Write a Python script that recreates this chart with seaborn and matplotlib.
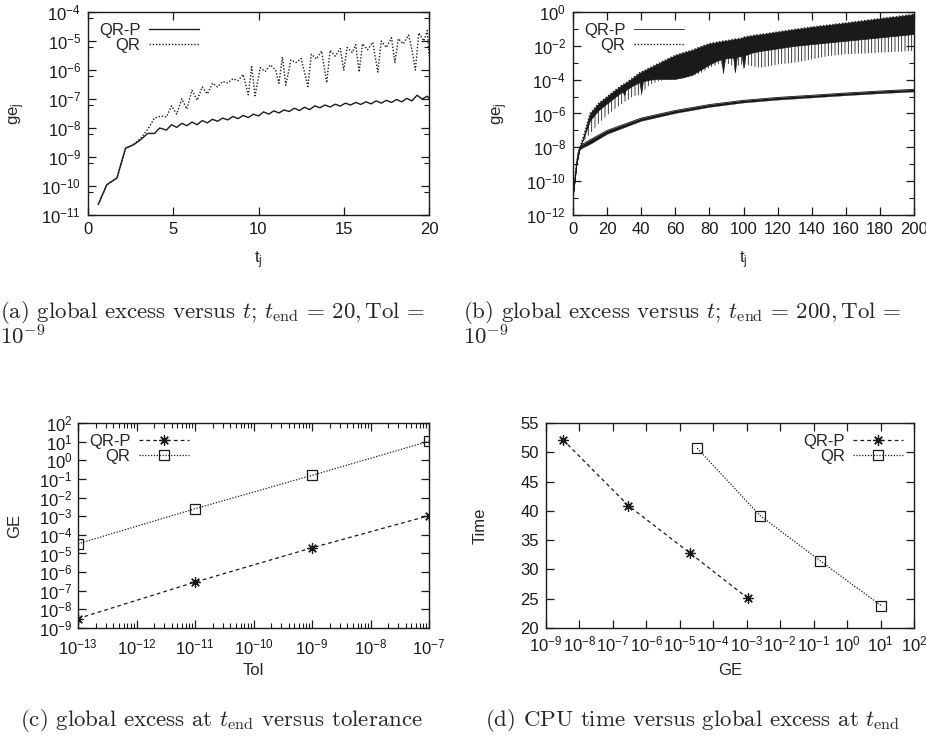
import numpy as np
import matplotlib
matplotlib.use("Agg")
import matplotlib.pyplot as plt
from matplotlib.ticker import LogLocator, NullFormatter, NullLocator, MultipleLocator
import seaborn as sns

# ---- (a) global excess vs t, t_end = 20 ----
a_t_qrp = [0.6, 1.1, 1.7, 2.2, 2.7, 3.1, 3.5, 3.9, 4.2, 4.6, 4.9, 5.2, 5.5, 5.8, 6.1, 6.4,
           6.7, 7.0, 7.3, 7.6, 7.9, 8.2, 8.5, 8.8, 9.1, 9.4, 9.7, 10.0, 10.3, 10.6, 10.9,
           11.2, 11.5, 11.8, 12.1, 12.4, 12.7, 13.0, 13.3, 13.6, 13.9, 14.2, 14.5, 14.8,
           15.1, 15.4, 15.7, 16.0, 16.3, 16.6, 16.9, 17.2, 17.5, 17.8, 18.1, 18.4, 18.7,
           19.0, 19.3, 19.6, 19.9, 20.0]
a_ge_qrp = [2.3e-11, 1.1e-10, 1.9e-10, 2.0e-9, 2.7e-9, 4.0e-9, 6.5e-9, 6.5e-9, 1.0e-8, 8.5e-9,
            1.3e-8, 1.05e-8, 1.45e-8, 1.2e-8, 1.6e-8, 1.3e-8, 1.8e-8, 1.5e-8, 2.0e-8, 1.7e-8,
            2.2e-8, 1.9e-8, 2.5e-8, 2.1e-8, 2.7e-8, 2.3e-8, 3.0e-8, 2.6e-8, 3.6e-8, 3.0e-8,
            3.9e-8, 3.3e-8, 4.2e-8, 3.7e-8, 4.8e-8, 4.0e-8, 5.2e-8, 4.3e-8, 5.8e-8, 5.0e-8,
            6.2e-8, 5.3e-8, 6.6e-8, 5.7e-8, 7.2e-8, 6.2e-8, 7.6e-8, 6.5e-8, 8.0e-8, 6.8e-8,
            8.6e-8, 7.2e-8, 9.0e-8, 7.6e-8, 9.6e-8, 8.0e-8, 1.05e-7, 8.6e-8, 1.35e-7, 1.0e-7,
            1.25e-7, 1.05e-7]
a_t_qr = [0.6, 1.1, 1.7, 2.2, 2.7, 3.1, 3.5, 3.9, 4.3, 4.6, 4.9, 5.2, 5.5, 5.8, 6.1, 6.4, 6.7,
          7.0, 7.3, 7.6, 7.9, 8.2, 8.5, 8.8, 9.1, 9.4, 9.6, 9.8, 10.1, 10.4, 10.7, 11.0, 11.2,
          11.4, 11.6, 11.9, 12.2, 12.5, 12.9, 13.1, 13.4, 13.7, 14.0, 14.2, 14.5, 14.8, 15.0,
          15.2, 15.5, 15.7, 15.9, 16.1, 16.4, 16.7, 17.0, 17.2, 17.5, 17.8, 18.0, 18.2, 18.5,
          18.8, 19.0, 19.2, 19.4, 19.7, 19.9, 20.0]
a_ge_qr = [2.3e-11, 1.1e-10, 1.9e-10, 2.0e-9, 2.8e-9, 4.5e-9, 9e-9, 2.2e-8, 2.6e-8, 2.4e-8,
           5.8e-8, 3.0e-8, 1.0e-7, 4.5e-8, 2.0e-7, 9e-8, 2.6e-7, 1.5e-7, 3.5e-7, 2.6e-7,
           4.0e-7, 3.6e-7, 5.0e-7, 4.3e-7, 7.0e-7, 1.4e-7, 1.3e-6, 1.3e-7, 1.2e-6, 9e-7,
           1.5e-6, 1.0e-6, 3.5e-7, 2.8e-6, 3.0e-7, 2.2e-6, 1.8e-6, 2.5e-6, 2.7e-7, 3.5e-6,
           2.4e-6, 4.5e-6, 3.6e-7, 4.8e-6, 3.0e-6, 5.5e-6, 1.0e-6, 6.0e-6, 4.0e-6, 7.5e-6,
           8.5e-7, 8.0e-6, 5e-6, 9.0e-6, 8.5e-7, 1.0e-5, 6e-6, 1.3e-5, 1.8e-6, 1.2e-5, 8e-6,
           1.6e-5, 5e-6, 1.0e-6, 1.9e-5, 1.0e-5, 2.3e-5, 3.2e-6]

# ---- (b) global excess vs t, t_end = 200 (envelopes of the dense traces, log10) ----
b_t_qrp = [0, 1, 2, 3, 4, 5, 10, 20, 40, 60, 80, 100, 120, 140, 160, 180, 200]
b_qrp_hi = [-10.8, -10.0, -9.0, -8.3, -8.0, -7.85, -7.55, -7.0, -6.27, -5.82, -5.47, -5.22,
            -5.05, -4.92, -4.79, -4.67, -4.57]
b_qrp_lo = [-10.8, -10.0, -9.0, -8.4, -8.12, -8.05, -7.8, -7.2, -6.43, -5.97, -5.61, -5.35,
            -5.18, -5.05, -4.92, -4.8, -4.7]
b_t_qr = [0, 2, 4, 6, 10, 15, 20, 25, 29, 30, 31, 35, 39, 40, 41, 45, 50, 55, 60, 65, 70,
          75, 80, 85, 87, 88, 89, 92, 94, 95, 96, 99, 100, 101, 105, 110, 120, 130, 140,
          150, 160, 170, 180, 190, 200]
b_qr_hi = [-10.8, -9.0, -8.0, -7.4, -6.0, -5.4, -5.0, -4.6, -4.3, -4.25, -4.2, -3.9, -3.6,
           -3.55, -3.5, -3.3, -3.05, -2.8, -2.56, -2.4, -2.25, -2.05, -1.87, -1.78, -1.74,
           -1.72, -1.71, -1.66, -1.62, -1.6, -1.59, -1.55, -1.48, -1.47, -1.4, -1.33, -1.18,
           -1.03, -0.89, -0.77, -0.65, -0.52, -0.39, -0.27, -0.14]
b_qr_dark = [-10.8, -9.0, -8.0, -7.5, -6.4, -5.8, -5.4, -5.0, -4.7, -4.9, -4.6, -4.35, -4.15,
             -4.8, -4.1, -4.0, -3.95, -3.95, -3.95, -3.85, -3.7, -3.4, -3.1, -2.85, -2.8,
             -3.6, -2.75, -2.7, -2.7, -3.55, -2.65, -2.6, -3.3, -2.55, -2.4, -2.3, -2.15,
             -2.0, -1.9, -1.8, -1.7, -1.6, -1.5, -1.4, -1.3]
b_qr_lo = [-10.8, -9.0, -8.0, -7.7, -7.2, -6.6, -6.1, -5.7, -5.4, -5.3, -5.3, -5.0, -4.9,
           -4.95, -4.7, -4.3, -4.1, -4.0, -4.0, -3.9, -3.8, -3.6, -3.3, -3.1, -3.0, -3.65,
           -3.0, -3.1, -3.2, -3.6, -3.2, -3.1, -3.4, -3.1, -3.2, -3.3, -3.1, -3.0, -2.8,
           -2.6, -2.5, -2.45, -2.4, -2.35, -2.3]

# ---- (c) GE at t_end vs Tol, (d) CPU time vs GE ----
tol = [1e-13, 1e-11, 1e-9, 1e-7]
ge_qrp = [3.2e-9, 2.9e-7, 2.0e-5, 1.07e-3]
ge_qr = [3.3e-5, 2.5e-3, 0.155, 10.5]
time_qrp = [52.15, 40.9, 32.8, 25.1]
time_qr = [50.7, 39.2, 31.5, 23.8]

sns.set_theme(style="ticks")
plt.rcParams["font.family"] = ["Liberation Sans", "DejaVu Sans"]
plt.rcParams["mathtext.fontset"] = "custom"
plt.rcParams["mathtext.rm"] = "Liberation Sans"
plt.rcParams["mathtext.it"] = "Liberation Sans:italic"
plt.rcParams["mathtext.bf"] = "Liberation Sans:bold"
plt.rcParams["hatch.linewidth"] = 0.6

W, H = 926, 747
fig = plt.figure(figsize=(W / 100, H / 100), dpi=100)


def box(l, t, r, b):
    return [l / W, 1 - b / H, (r - l) / W, (b - t) / H]


ax_a = fig.add_axes(box(88, 12, 429, 215))
ax_b = fig.add_axes(box(573, 12, 914, 215))
ax_c = fig.add_axes(box(78, 423, 429, 628))
ax_d = fig.add_axes(box(546, 423, 914, 628))

dotted = (0, (1, 1.3))
dashed = (0, (3, 2.5))
fs = 12

# (a)
sns.lineplot(x=a_t_qrp, y=a_ge_qrp, ax=ax_a, color="k", lw=1.0, label="QR-P", sort=False)
sns.lineplot(x=a_t_qr, y=a_ge_qr, ax=ax_a, color="k", lw=1.0, linestyle=dotted, label="QR",
             sort=False)
ax_a.set_yscale("log")
ax_a.set_xlim(0, 20)
ax_a.set_ylim(1e-11, 1e-4)
ax_a.xaxis.set_major_locator(MultipleLocator(5))
ax_a.yaxis.set_major_locator(LogLocator(base=10, numticks=20))
ax_a.yaxis.set_minor_locator(LogLocator(base=10, subs=(6,), numticks=20))
ax_a.yaxis.set_minor_formatter(NullFormatter())
ax_a.set_xlabel("t$_{\\mathrm{j}}$")
ax_a.set_ylabel("ge$_{\\mathrm{j}}$")

# (b)
bt_qrp = np.array(b_t_qrp)
bt_qr = np.array(b_t_qr)
ax_b.fill_between(bt_qr, 10 ** np.array(b_qr_lo), 10 ** np.array(b_qr_dark),
                  facecolor="none", edgecolor="k", hatch="|||||", linewidth=0)
ax_b.fill_between(bt_qr, 10 ** np.array(b_qr_dark), 10 ** np.array(b_qr_hi),
                  color="k", linewidth=0.5)
ax_b.fill_between(bt_qrp, 10 ** np.array(b_qrp_lo), 10 ** np.array(b_qrp_hi),
                  color="k", linewidth=0.2)
sns.lineplot(x=bt_qrp, y=10 ** np.array(b_qrp_hi), ax=ax_b, color="k", lw=0.6, label="QR-P")
sns.lineplot(x=bt_qr, y=10 ** np.array(b_qr_hi), ax=ax_b, color="k", lw=1.0,
             linestyle=dotted, label="QR")
ax_b.set_yscale("log")
ax_b.set_xlim(0, 200)
ax_b.set_ylim(1e-12, 1)
ax_b.xaxis.set_major_locator(MultipleLocator(20))
ax_b.yaxis.set_major_locator(LogLocator(base=100, numticks=20))
ax_b.yaxis.set_minor_locator(LogLocator(base=100, subs=(10,), numticks=20))
ax_b.yaxis.set_minor_formatter(NullFormatter())
ax_b.set_xlabel("t$_{\\mathrm{j}}$")
ax_b.set_ylabel("ge$_{\\mathrm{j}}$")

# (c)
star = (8, 2, 0)
sns.lineplot(x=tol, y=ge_qrp, ax=ax_c, color="k", lw=0.9, linestyle=dashed, marker=star,
             markersize=7.5, markeredgecolor="k", markeredgewidth=0.9, label="QR-P")
sns.lineplot(x=tol, y=ge_qr, ax=ax_c, color="k", lw=0.9, linestyle=dotted, marker="s",
             markersize=6.5, markerfacecolor="none", markeredgecolor="k",
             markeredgewidth=0.9, label="QR")
ax_c.set_xscale("log")
ax_c.set_yscale("log")
ax_c.set_xlim(1e-13, 1e-7)
ax_c.set_ylim(1e-9, 1e2)
ax_c.xaxis.set_major_locator(LogLocator(base=10, numticks=20))
ax_c.xaxis.set_minor_locator(LogLocator(base=10, subs=np.arange(2, 10), numticks=20))
ax_c.xaxis.set_minor_formatter(NullFormatter())
ax_c.yaxis.set_major_locator(LogLocator(base=10, numticks=20))
ax_c.yaxis.set_minor_locator(NullLocator())
ax_c.set_xlabel("Tol")
ax_c.set_ylabel("GE")

# (d)
sns.lineplot(x=ge_qrp, y=time_qrp, ax=ax_d, color="k", lw=0.9, linestyle=dashed,
             marker=star, markersize=7.5, markeredgecolor="k", markeredgewidth=0.9,
             label="QR-P")
sns.lineplot(x=ge_qr, y=time_qr, ax=ax_d, color="k", lw=0.9, linestyle=dotted, marker="s",
             markersize=6.5, markerfacecolor="none", markeredgecolor="k",
             markeredgewidth=0.9, label="QR")
ax_d.set_xscale("log")
ax_d.set_xlim(1e-9, 1e2)
ax_d.set_ylim(20, 55)
ax_d.xaxis.set_major_locator(LogLocator(base=10, numticks=20))
ax_d.xaxis.set_minor_locator(NullLocator())
ax_d.yaxis.set_major_locator(MultipleLocator(5))
ax_d.set_xlabel("GE")
ax_d.set_ylabel("Time")

for ax in (ax_a, ax_b, ax_c, ax_d):
    ax.tick_params(which="both", direction="in", top=True, right=True, labelsize=fs,
                   colors="k", pad=5)
    ax.tick_params(which="major", length=6, width=0.9)
    ax.tick_params(which="minor", length=3.5, width=0.8)
    for s in ax.spines.values():
        s.set_color("k")
        s.set_linewidth(1.0)
    ax.xaxis.label.set_size(fs)
    ax.yaxis.label.set_size(fs)
ax_c.tick_params(axis="x", which="both", pad=7)
ax_c.tick_params(axis="y", which="both", pad=4)

for ax, loc in ((ax_a, "upper left"), (ax_b, "upper left"), (ax_c, "upper left"),
                (ax_d, "upper right")):
    ax.legend(loc=loc, frameon=False, markerfirst=False, fontsize=fs, handlelength=3.0,
              handletextpad=0.5, labelspacing=0.0, borderaxespad=0.25)

ax_a.yaxis.set_label_coords(-0.179, 0.5)
ax_b.yaxis.set_label_coords(-0.185, 0.5)
ax_c.yaxis.set_label_coords(-0.16, 0.5)
ax_d.yaxis.set_label_coords(-0.158, 0.5)
for ax in (ax_a, ax_b, ax_c, ax_d):
    ax.xaxis.set_label_coords(0.5, -0.17)

cap = dict(fontfamily="cmr10", math_fontfamily="cm", fontsize=16.5, va="center")
fig.text(0 / W, 1 - 312 / H, r"(a) global excess versus $t$; $t_{\mathrm{end}}\,=\,20, \mathrm{Tol}\,=$", **cap)
fig.text(0 / W, 1 - 336 / H, r"$10^{-9}$", **cap)
fig.text(463 / W, 1 - 312 / H, r"(b) global excess versus $t$; $t_{\mathrm{end}}\,=\,200, \mathrm{Tol}\,=$", **cap)
fig.text(463 / W, 1 - 336 / H, r"$10^{-9}$", **cap)
fig.text(20 / W, 1 - 721 / H, r"(c) global excess at $t_{\mathrm{end}}$ versus tolerance", **cap)
fig.text(485 / W, 1 - 721 / H, r"(d) CPU time versus global excess at $t_{\mathrm{end}}$", **cap)

fig.savefig("out.png", dpi=100)
